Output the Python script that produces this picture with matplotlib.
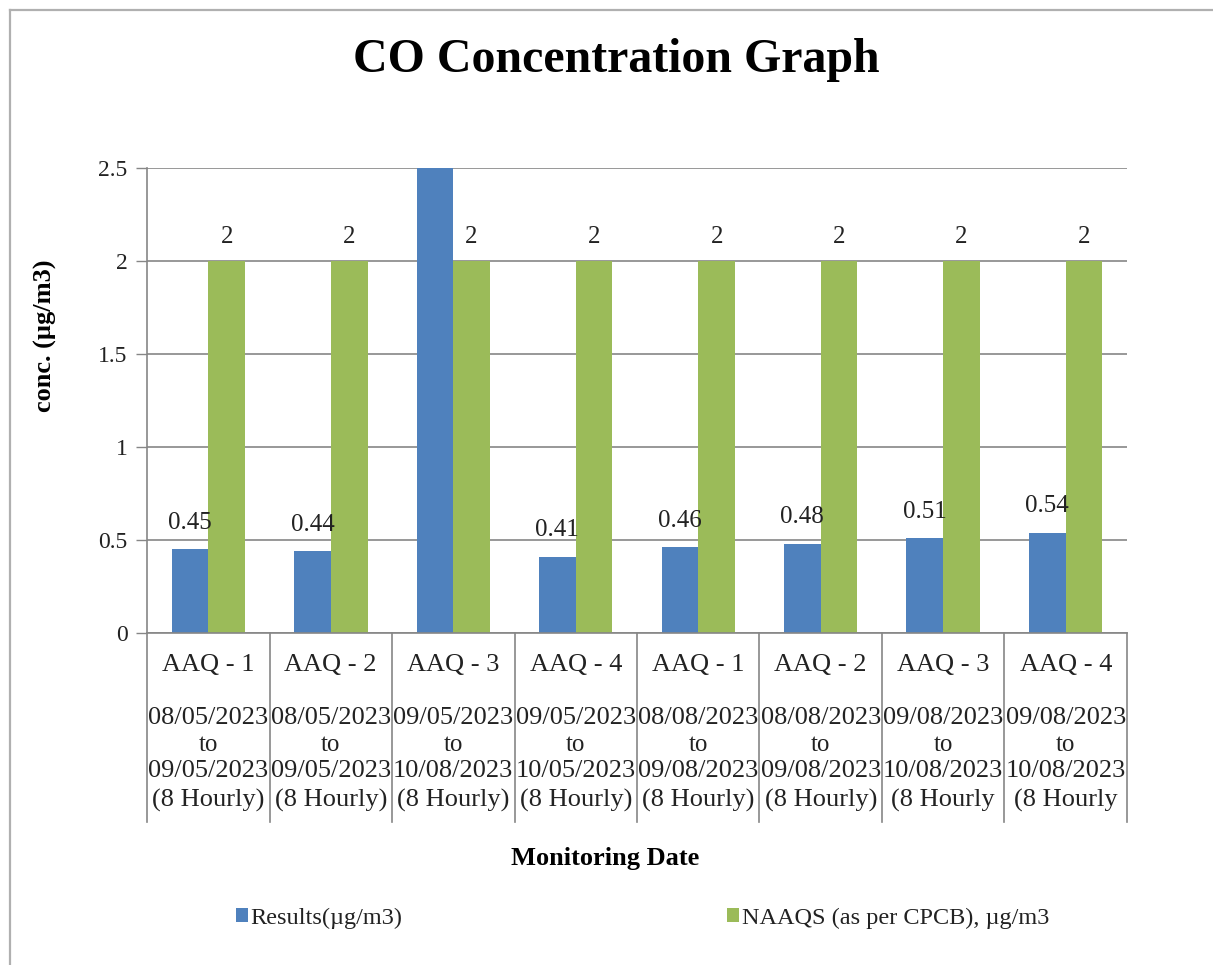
import matplotlib
matplotlib.use('Agg')
import matplotlib.pyplot as plt
import numpy as np
from matplotlib.lines import Line2D
from matplotlib.patches import Patch

# data
stations = ['AAQ - 1', 'AAQ - 2', 'AAQ - 3', 'AAQ - 4',
            'AAQ - 1', 'AAQ - 2', 'AAQ - 3', 'AAQ - 4']
date_from = ['08/05/2023', '08/05/2023', '09/05/2023', '09/05/2023',
             '08/08/2023', '08/08/2023', '09/08/2023', '09/08/2023']
date_to = ['09/05/2023', '09/05/2023', '10/08/2023', '10/05/2023',
           '09/08/2023', '09/08/2023', '10/08/2023', '10/08/2023']
period = ['(8 Hourly)'] * 6 + ['(8 Hourly', '(8 Hourly']
results = [0.45, 0.44, 2.5, 0.41, 0.46, 0.48, 0.51, 0.54]
naaqs = [2, 2, 2, 2, 2, 2, 2, 2]

BLUE = '#4F81BD'
GREEN = '#9BBB59'
GRID = '#868686'
TXT = '#222222'

plt.rcParams['font.family'] = 'Liberation Serif'

W, H = 1213, 965
fig = plt.figure(figsize=(W / 100, H / 100), dpi=100)

# outer chart border (only top and left visible)
fig.add_artist(Line2D([10 / W, 1], [1 - 10 / H, 1 - 10 / H], color='#b0b0b0', lw=1.6))
fig.add_artist(Line2D([10 / W, 10 / W], [0, 1 - 10 / H], color='#b0b0b0', lw=1.6))

x0, x1 = 147, 1127
y_top, y_bot = 168, 633
ax = fig.add_axes([x0 / W, 1 - y_bot / H, (x1 - x0) / W, (y_bot - y_top) / H])

n = len(results)
x = np.arange(n)
bw = 0.30
ymax = 2.5

ax.bar(x - bw / 2, results, bw, color=BLUE, zorder=3)
ax.bar(x + bw / 2, naaqs, bw, color=GREEN, zorder=3)

for xi, v in zip(x, results):
    if v < ymax:
        ax.annotate(f'{v:g}', (xi - bw / 2, v), xytext=(0, 19), textcoords='offset points',
                    ha='center', va='center', fontsize=18, color=TXT)
for xi, v in zip(x, naaqs):
    ax.annotate(f'{v:g}', (xi + bw / 2, v), xytext=(0, 17), textcoords='offset points',
                ha='center', va='center', fontsize=18, color=TXT)

ax.set_xlim(-0.5, n - 0.5)
ax.set_ylim(0, ymax)
ax.set_yticks(np.arange(0, 2.51, 0.5))
ax.set_yticklabels(['0', '0.5', '1', '1.5', '2', '2.5'], fontsize=17, color=TXT)
ax.yaxis.grid(True, color=GRID, lw=1.2, zorder=0)
ax.tick_params(axis='y', length=8, width=1, color=GRID, pad=6)
ax.set_xticks([])

for s in ['top', 'right', 'bottom']:
    ax.spines[s].set_visible(False)
ax.spines['left'].set_color(GRID)
ax.spines['left'].set_linewidth(1.2)

# category table below the axis
tf = ax.get_xaxis_transform()


def frac(py):
    return -(py - y_bot) / (y_bot - y_top)


ax.plot([-0.5, n - 0.5], [0, 0], color=GRID, lw=1.2, transform=tf, clip_on=False, zorder=4)
for b in np.arange(n + 1) - 0.5:
    ax.plot([b, b], [0, frac(822)], color=GRID, lw=1.2, transform=tf, clip_on=False)

for i in range(n):
    ax.text(i, frac(665), stations[i], transform=tf, ha='center', va='center', fontsize=19, color=TXT)
    ax.text(i, frac(718), date_from[i], transform=tf, ha='center', va='center', fontsize=19, color=TXT)
    ax.text(i, frac(745), 'to', transform=tf, ha='center', va='center', fontsize=18, color=TXT)
    ax.text(i, frac(771), date_to[i], transform=tf, ha='center', va='center', fontsize=19, color=TXT)
    ax.text(i, frac(800), period[i], transform=tf, ha='center', va='center', fontsize=19, color=TXT)

fig.text(616 / W, 1 - 60 / H, 'CO Concentration Graph', ha='center', va='center',
         fontsize=34.5, fontweight='bold')
fig.text(45 / W, 1 - 336 / H, 'conc. (µg/m3)', rotation=90, ha='center', va='center',
         fontsize=19, fontweight='bold')
fig.text(605 / W, 1 - 858 / H, 'Monitoring Date', ha='center', va='center',
         fontsize=19, fontweight='bold')

leg_kw = dict(frameon=False, fontsize=17.5, handlelength=0.5, handleheight=0.5,
              handletextpad=0.1, borderpad=0, borderaxespad=0)
leg1 = fig.legend(handles=[Patch(facecolor=BLUE, label='Results(µg/m3)')],
                  loc='center left', bbox_to_anchor=(236 / W, 1 - 918 / H), **leg_kw)
leg2 = fig.legend(handles=[Patch(facecolor=GREEN, label='NAAQS (as per CPCB), µg/m3')],
                  loc='center left', bbox_to_anchor=(727 / W, 1 - 918 / H), **leg_kw)
for leg in (leg1, leg2):
    for t in leg.get_texts():
        t.set_color(TXT)

fig.savefig('out.png', dpi=100)
